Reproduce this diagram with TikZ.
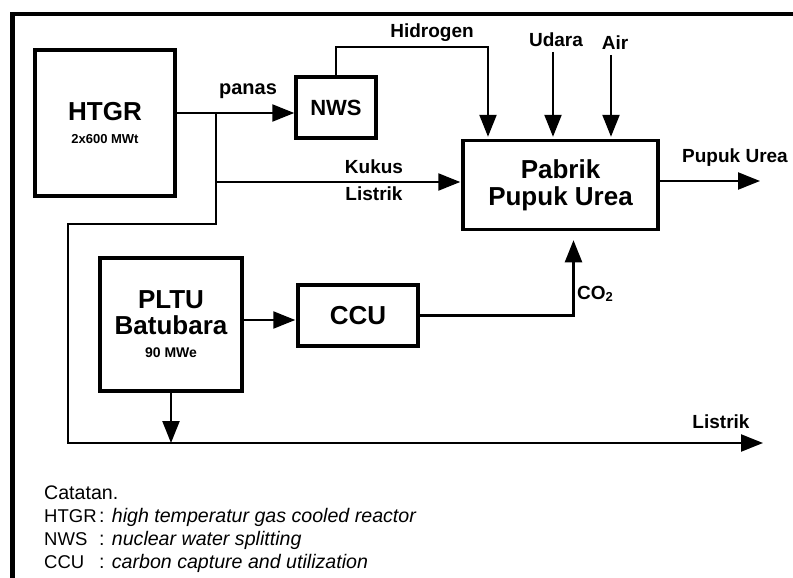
\documentclass[tikz,border=0pt]{standalone}
\usepackage{fontspec}
\setmainfont{Liberation Sans}
\usetikzlibrary{arrows.meta, positioning}

\newcommand{\notename}[1]{\makebox[55pt][l]{\fontsize{18.5}{18.5}\selectfont #1}:}

\begin{document}
\begin{tikzpicture}[x=1pt, y=-1pt, >={Triangle[length=22pt,width=17pt]},
                    blok/.style={draw, rectangle, line width=3.5pt, inner sep=0pt, align=center,
                                 font=\fontsize{26}{26}\selectfont\bfseries},
                    flow/.style={->, line width=2.3pt},
                    lbl/.style={inner sep=1pt, font=\fontsize{19}{19}\selectfont\bfseries},
                    note/.style={anchor=west, inner sep=0pt, font=\fontsize{19.6}{19.6}\selectfont}]
                    \useasboundingbox (0,0) rectangle (793,578);
                    % Frame
                    \draw[line width=4.5pt] (12.5,600) -- (12.5,14) -- (810,14);
                    
                    % Blocks
                    \node[blok, minimum width=140, minimum height=146] (htgr) at (105,123) {HTGR\\[-3pt]{\fontsize{13}{13}\selectfont 2x600 MWt}};
                    \node[blok, minimum width=80, minimum height=61, font=\fontsize{22}{22}\selectfont\bfseries] (nws) at (336,107.5) {NWS};
                    \node[blok, minimum width=195, minimum height=89, font=\fontsize{26}{27}\selectfont\bfseries] (pabrik) at (560.5,185) {Pabrik\\Pupuk Urea};
                    \node[blok, minimum width=142, minimum height=133] (pltu) at (171,324.5) {PLTU\\Batubara\\[-3pt]{\fontsize{14}{14}\selectfont 90 MWe}};
                    \node[blok, minimum width=120, minimum height=61] (ccu) at (358,315.5) {CCU};
                    
                    % Bends and free ends
                    \coordinate (cab) at (216,113);
                    \coordinate (kukus) at (216,182);
                    \coordinate (belok) at (68,224);
                    \coordinate (hbelok) at (488,47);
                    \coordinate (udaraIn) at (553,52);
                    \coordinate (airIn) at (611,55);
                    \coordinate (ureaOut) at (760,181);
                    \coordinate (listrikOut) at (763,443);
                    
                    % Flows
                    \draw[flow] (htgr.east |- cab) -- (nws.west |- cab);
                    \draw[flow] (cab) |- (belok) -- (belok |- listrikOut) -- (listrikOut);
                    \draw[flow, shorten >=1pt] (kukus) -- (pabrik.west |- kukus);
                    \draw[flow, shorten >=2pt] (nws.north) |- (hbelok) -- (hbelok |- pabrik.north);
                    \draw[flow, shorten >=2pt] (udaraIn) -- (udaraIn |- pabrik.north);
                    \draw[flow, shorten >=2pt] (airIn) -- (airIn |- pabrik.north);
                    \draw[flow] (pabrik.east |- ureaOut) -- (ureaOut);
                    \draw[flow, shorten >=1pt] ([yshift=-4.5pt]ccu.west -| pltu.east) -- ([yshift=-4.5pt]ccu.west);
                    \draw[flow, shorten >=9pt] (ccu.east) -| ([xshift=13pt]pabrik.south);
                    \draw[flow] (pltu.south) -- (pltu.south |- listrikOut);
                    
                    % Flow labels
                    \node[lbl, font=\fontsize{20}{20}\selectfont\bfseries] (panas) at (248,91) {panas};
                    \node[lbl] (hidrogen) at (432,33) {Hidrogen};
                    \node[lbl] (udara) at (556,40) {Udara};
                    \node[lbl] (air) at (615,43) {Air};
                    \node[lbl] (kukusLbl) at (374,167) {Kukus};
                    \node[lbl] (listrikLbl) at (374,194) {Listrik};
                    \node[lbl] (urea) at (735,158) {Pupuk Urea};
                    \node[lbl, anchor=west] (co2) at (576,294) {CO\raisebox{-2pt}{\fontsize{13}{13}\selectfont 2}};
                    \node[lbl] (listrik) at (721,422) {Listrik};
                    
                    % Notes
                    \node[note] (catatan) at (44,493) {Catatan.};
                    \node[note] (n1) at (44,517) {\notename{HTGR} \textit{high temperatur gas cooled reactor}};
                    \node[note] (n2) at (44,540) {\notename{NWS} \textit{nuclear water splitting}};
                    \node[note] (n3) at (44,563) {\notename{CCU} \textit{carbon capture and utilization}};
                \end{tikzpicture}
\end{document}
